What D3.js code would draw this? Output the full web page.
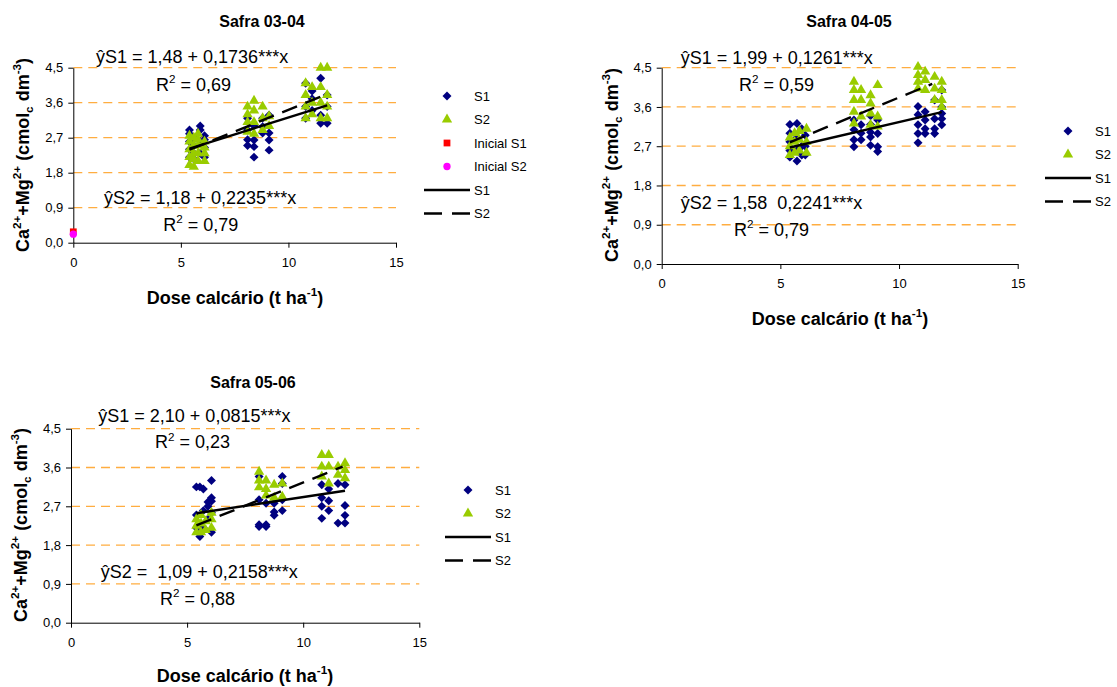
<!DOCTYPE html>
<html>
  <head>
    <meta charset="utf-8">
    <title>Ca+Mg vs dose calcário</title>
    <script src="https://d3js.org/d3.v7.min.js"></script>
    <style>
      body { margin: 0; background: #fff; }
      svg { display: block; font-family: "Liberation Sans", Arial, sans-serif; }
      text { white-space: pre; }
    </style>
  </head>
  <body>
    <svg id="chart" width="1117" height="687"></svg>
    <script>
      // ---- data ----
      var xTicks = [0, 5, 10, 15];
      var yTicks = [0, 0.9, 1.8, 2.7, 3.6, 4.5];
      var titles = ["Safra 03-04", "Safra 04-05", "Safra 05-06"];
      var xLabelParts = [["Dose calcário (t ha", ""], ["-1", "sup"], [")", ""]];
      var yLabelParts = [["Ca", ""], ["2+", "sup"], ["+Mg", ""], ["2+", "sup"], [" (cmol", ""], ["c", "sub"], [" dm", ""], ["-3", "sup"], [")", ""]];

      // safra 03-04
      var p1S1 = [[5.4,2.9],[5.4,2.8],[5.4,2.6],[5.4,2.4],[5.4,2.2],[5.6,2.7],[5.6,2.5],[5.6,2.3],[5.6,2.15],
        [5.9,3.0],[5.9,2.9],[5.9,2.6],[5.9,2.3],[6.1,2.75],[6.1,2.65],[6.1,2.45],[6.1,2.2],
        [8.1,2.5],[8.1,2.65],[8.1,2.9],[8.1,3.2],[8.4,2.2],[8.4,2.47],[8.4,2.64],[8.4,3.0],
        [8.8,2.82],[8.8,2.98],[8.8,3.2],[9.1,2.38],[9.1,2.64],[9.1,2.82],[9.1,3.28],
        [10.8,4.1],[10.8,3.2],[10.8,3.5],[11.1,3.7],[11.1,3.4],[11.1,3.9],
        [11.5,4.23],[11.5,3.28],[11.5,3.07],[11.8,3.8],[11.8,3.07],[11.8,3.5]];
      var p1S2 = [[5.4,2.0],[5.4,2.2],[5.4,2.4],[5.4,2.6],[5.4,2.75],[5.6,1.95],[5.6,2.15],[5.6,2.3],[5.6,2.5],[5.6,2.7],
        [5.8,2.1],[5.8,2.3],[5.8,2.5],[5.8,2.65],[5.8,2.8],[6.1,2.1],[6.1,2.3],[6.1,2.45],[6.1,2.6],
        [8.1,2.85],[8.1,3.1],[8.1,3.3],[8.1,3.5],[8.4,2.8],[8.4,3.1],[8.4,3.4],[8.4,3.65],
        [8.8,2.9],[8.8,3.2],[8.8,3.5],[9.1,3.0],[9.1,3.25],
        [10.8,3.2],[10.8,3.5],[10.8,3.8],[10.8,4.1],[11.1,3.3],[11.1,3.6],[11.1,4.0],
        [11.5,3.2],[11.5,3.6],[11.5,4.0],[11.5,4.5],[11.8,3.2],[11.8,3.5],[11.8,3.8],[11.8,4.5]];
      var p1Init = [[0, 0.28], [0, 0.22]];
      var p1Trend = [[[5.4, 2.42], [11.8, 3.53]], [[5.4, 2.39], [11.8, 3.82]]];
      var p1Eq = ["ŷS1 = 1,48 + 0,1736***x", "ŷS2 = 1,18 + 0,2235***x"];
      var p1R2 = ["0,69", "0,79"];

      // safra 04-05
      var p2S1 = [[5.4,3.2],[5.4,3.0],[5.4,2.8],[5.4,2.6],[5.4,2.45],[5.7,3.22],[5.7,2.9],[5.7,2.6],[5.7,2.36],
        [5.9,3.1],[5.9,2.7],[5.9,2.5],[6.05,2.95],[6.05,2.7],[6.05,2.5],
        [8.1,2.69],[8.1,2.85],[8.1,3.08],[8.1,3.3],[8.4,2.85],[8.4,3.0],[8.4,3.19],
        [8.8,2.72],[8.8,2.91],[8.8,3.02],[8.8,3.2],[8.8,3.4],[9.1,2.58],[9.1,2.69],[9.1,2.99],[9.1,3.3],
        [10.8,2.78],[10.8,2.99],[10.8,3.19],[10.8,3.42],[10.8,3.61],[11.1,2.99],[11.1,3.1],[11.1,3.3],[11.1,3.49],
        [11.5,2.99],[11.5,3.1],[11.5,3.33],[11.5,3.76],[11.8,3.19],[11.8,3.33],[11.8,3.45],[11.8,3.6],[11.8,3.99]];
      var p2S2 = [[5.4,2.5],[5.4,2.7],[5.4,2.9],[5.6,2.55],[5.6,2.8],[5.6,3.0],[5.8,2.6],[5.8,2.85],[5.8,3.05],
        [6.1,2.55],[6.1,2.8],[6.1,3.1],
        [8.1,3.22],[8.1,3.49],[8.1,3.76],[8.1,3.99],[8.1,4.18],[8.4,3.38],[8.4,3.76],[8.4,3.99],
        [8.8,3.19],[8.8,3.45],[8.8,3.68],[8.8,3.87],[9.1,3.15],[9.1,3.38],[9.1,4.1],
        [10.8,4.02],[10.8,4.18],[10.8,4.33],[10.8,4.52],[11.1,3.99],[11.1,4.22],[11.1,4.41],
        [11.5,3.76],[11.5,4.02],[11.5,4.29],[11.8,3.6],[11.8,3.76],[11.8,3.99],[11.8,4.18]];
      var p2Trend = [[[5.4, 2.67], [11.8, 3.48]], [[5.4, 2.79], [11.4, 4.13]]];
      var p2Eq = ["ŷS1 = 1,99 + 0,1261***x", "ŷS2 = 1,58  0,2241***x"];
      var p2R2 = ["0,59", "0,79"];

      // safra 05-06
      var p3S1 = [[5.4,3.15],[5.4,2.5],[5.4,2.2],[5.55,3.15],[5.55,2.15],[5.55,2.0],[5.7,3.1],[5.7,2.6],[5.7,2.2],
        [5.9,2.8],[5.9,2.7],[5.9,2.4],[6.05,3.3],[6.05,2.9],[6.05,2.82],[6.05,2.55],[6.05,2.1],
        [8.1,3.39],[8.1,2.85],[8.1,2.27],[8.1,2.23],[8.4,2.77],[8.4,2.27],[8.4,2.23],
        [8.75,2.57],[8.75,2.49],[8.75,2.77],[9.1,3.39],[9.1,3.23],[9.1,2.85],[9.1,2.6],
        [10.8,3.2],[10.8,2.9],[10.8,2.7],[10.8,2.42],[11.1,2.83],[11.1,2.6],[11.1,3.1],
        [11.5,2.31],[11.5,3.23],[11.8,2.72],[11.8,2.49],[11.8,2.31],[11.8,3.2]];
      var p3S2 = [[5.4,2.1],[5.4,2.25],[5.4,2.4],[5.6,2.1],[5.6,2.3],[5.6,2.5],[5.8,2.15],[5.8,2.35],
        [6.05,2.2],[6.05,2.4],[6.05,2.55],
        [8.1,3.5],[8.1,3.14],[8.1,3.3],[8.4,3.3],[8.4,3.1],[8.4,2.95],[8.75,3.2],[8.75,2.9],[9.1,3.23],[9.1,2.92],
        [10.8,3.89],[10.8,3.62],[10.8,3.39],[11.1,3.89],[11.1,3.62],[11.1,3.23],
        [11.5,3.62],[11.5,3.43],[11.8,3.7],[11.8,3.54],[11.8,3.35]];
      var p3Trend = [[[5.4, 2.54], [11.8, 3.06]], [[5.4, 2.26], [11.7, 3.62]]];
      var p3Eq = ["ŷS1 = 2,10 + 0,0815***x", "ŷS2 =  1,09 + 0,2158***x"];
      var p3R2 = ["0,23", "0,88"];

      var legendFull = [["diamond", "S1"], ["triangle", "S2"], ["square", "Inicial S1"], ["circle", "Inicial S2"], ["line", "S1"], ["dash", "S2"]];
      var legendShort = [["diamond", "S1"], ["triangle", "S2"], ["line", "S1"], ["dash", "S2"]];

      // ---- layout ----
      var colours = { diamond: "#000080", triangle: "#99cc00", square: "#ff0000", circle: "#ff00ff" };
      var gridColour = "#ffad40";
      var panels = [
        { title: titles[0], s1: p1S1, s2: p1S2, init: p1Init, trend: p1Trend, eq: p1Eq, r2: p1R2, legend: legendFull,
          left: 73.3, right: 396, top: 67.7, bottom: 242.7, titleXY: [262, 26.7], xLabXY: [235, 304], yLabXY: [29, 155],
          legXY: [447, 96], notes: [[96, 63.3], [156, 90.7], [104, 204], [163.3, 230.7]] },
        { title: titles[1], s1: p2S1, s2: p2S2, init: [], trend: p2Trend, eq: p2Eq, r2: p2R2, legend: legendShort,
          left: 661.7, right: 1017.7, top: 67.7, bottom: 264, titleXY: [849, 26.7], xLabXY: [840, 325], yLabXY: [618, 165],
          legXY: [1068, 131], notes: [[680.7, 64], [739, 90.7], [680.7, 209.3], [734, 236]] },
        { title: titles[2], s1: p3S1, s2: p3S2, init: [], trend: p3Trend, eq: p3Eq, r2: p3R2, legend: legendShort,
          left: 71, right: 419.3, top: 428.7, bottom: 622.7, titleXY: [253, 388], xLabXY: [245, 681.7], yLabXY: [27, 525],
          legXY: [468, 490], notes: [[98.3, 421.7], [155, 448.3], [100.7, 578.3], [160, 605]] }
      ];

      var chart = d3.select("#chart");
      chart.append("rect").attr("width", 1117).attr("height", 687).attr("fill", "#fff");

      // text with superscript / subscript pieces
      function rich(text, parts, size) {
        var shift = 0;
        parts.forEach(function(pt) {
          var target = pt[1] === "sup" ? -0.42 * size : pt[1] === "sub" ? 0.22 * size : 0;
          text.append("tspan")
            .attr("dy", target - shift)
            .attr("font-size", pt[1] ? size * 0.65 : size)
            .text(pt[0]);
          shift = target;
        });
      }

      function symbolPath(type) {
        if (type === "diamond") return d3.symbol(d3.symbolSquare, 40)();
        if (type === "triangle") return d3.symbol(d3.symbolTriangle, 46)();
        if (type === "square") return d3.symbol(d3.symbolSquare, 46)();
        return d3.symbol(d3.symbolCircle, 42)();
      }

      function drawPanel(p) {
        var g = chart.append("g");
        var x = d3.scaleLinear().domain([0, 15]).range([p.left, p.right]);
        var y = d3.scaleLinear().domain([0, 4.5]).range([p.bottom, p.top]);

        // grid
        g.selectAll(".grid")
            .data(yTicks.slice(1))
          .enter().append("line")
            .attr("x1", x(0)).attr("x2", x(15))
            .attr("y1", function(d) { return y(d); })
            .attr("y2", function(d) { return y(d); })
            .attr("stroke", gridColour)
            .attr("stroke-width", 1.3)
            .attr("stroke-dasharray", "9,6");

        // axes
        var yAxis = d3.axisLeft(y)
          .tickValues(yTicks)
          .tickFormat(function(d) { return d3.format(".1f")(d).replace(".", ","); })
          .tickSizeInner(5).tickSizeOuter(0).tickPadding(5);
        var xAxis = d3.axisBottom(x)
          .tickValues(xTicks)
          .tickSizeInner(5).tickSizeOuter(0).tickPadding(10);
        var ya = g.append("g").attr("transform", "translate(" + x(0) + ",0)").call(yAxis);
        var xa = g.append("g").attr("transform", "translate(0," + y(0) + ")").call(xAxis);
        [ya, xa].forEach(function(a) {
          a.attr("font-family", null).attr("font-size", 13);
          a.selectAll("text").attr("fill", "#000");
          a.selectAll("path, line").attr("stroke", "#000");
        });

        // points
        g.selectAll(".s1")
            .data(p.s1)
          .enter().append("path")
            .attr("d", symbolPath("diamond"))
            .attr("fill", colours.diamond)
            .attr("transform", function(d) { return "translate(" + x(d[0]) + "," + y(d[1]) + ") rotate(45)"; });
        g.selectAll(".s2")
            .data(p.s2)
          .enter().append("path")
            .attr("d", symbolPath("triangle"))
            .attr("fill", colours.triangle)
            .attr("transform", function(d) { return "translate(" + x(d[0]) + "," + y(d[1]) + ")"; });
        g.selectAll(".init")
            .data(p.init)
          .enter().append("path")
            .attr("d", function(d, i) { return symbolPath(i === 0 ? "square" : "circle"); })
            .attr("fill", function(d, i) { return i === 0 ? colours.square : colours.circle; })
            .attr("transform", function(d) { return "translate(" + x(d[0]) + "," + y(d[1]) + ")"; });

        // trend lines
        var line = d3.line().x(function(d) { return x(d[0]); }).y(function(d) { return y(d[1]); });
        g.selectAll(".trend")
            .data(p.trend)
          .enter().append("path")
            .attr("d", line)
            .attr("fill", "none")
            .attr("stroke", "#000")
            .attr("stroke-width", 2.4)
            .attr("stroke-dasharray", function(d, i) { return i === 1 ? "16,9" : null; });

        // equations
        [p.eq[0], p.r2[0], p.eq[1], p.r2[1]].forEach(function(t, i) {
          var txt = g.append("text")
            .attr("x", p.notes[i][0]).attr("y", p.notes[i][1])
            .attr("font-size", 18).attr("fill", "#000");
          if (i % 2 === 0) txt.text(t);
          else rich(txt, [["R", ""], ["2", "sup"], [" = " + t, ""]], 18);
        });

        // titles and labels
        g.append("text")
          .attr("x", p.titleXY[0]).attr("y", p.titleXY[1])
          .attr("text-anchor", "middle").attr("font-weight", "bold").attr("font-size", 16)
          .text(p.title);
        rich(g.append("text")
          .attr("x", p.xLabXY[0]).attr("y", p.xLabXY[1])
          .attr("text-anchor", "middle").attr("font-weight", "bold"), xLabelParts, 18);
        rich(g.append("text")
          .attr("transform", "translate(" + p.yLabXY[0] + "," + p.yLabXY[1] + ") rotate(-90)")
          .attr("text-anchor", "middle").attr("font-weight", "bold"), yLabelParts, 18);

        // legend
        var items = g.selectAll(".leg")
            .data(p.legend)
          .enter().append("g")
            .attr("transform", function(d, i) { return "translate(" + p.legXY[0] + "," + (p.legXY[1] + i * 23.5) + ")"; });
        items.each(function(d) {
          var it = d3.select(this);
          if (d[0] === "line" || d[0] === "dash") {
            it.append("line")
              .attr("x1", -23).attr("x2", 23)
              .attr("stroke", "#000").attr("stroke-width", 2.4)
              .attr("stroke-dasharray", d[0] === "dash" ? "18,10" : null);
          } else {
            it.append("path")
              .attr("d", symbolPath(d[0]))
              .attr("fill", colours[d[0]])
              .attr("transform", d[0] === "diamond" ? "rotate(45)" : null);
          }
          it.append("text")
            .attr("x", 27).attr("dy", "0.35em")
            .attr("font-size", 13)
            .text(d[1]);
        });
      }

      panels.forEach(drawPanel);
    </script>
  </body>
</html>
